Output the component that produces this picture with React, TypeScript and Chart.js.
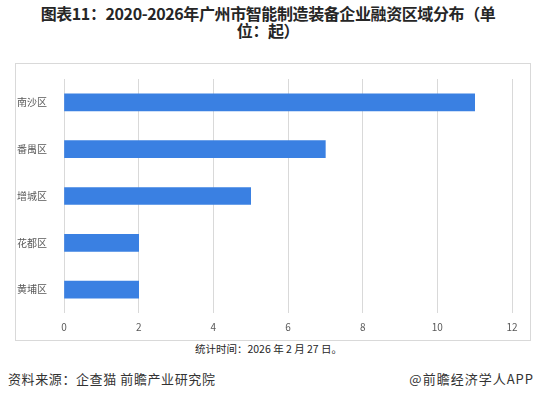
import React, { useEffect, useRef } from "react";
import { Chart, registerables } from "chart.js";

Chart.register(...registerables);

const categories = ["南沙区", "番禺区", "增城区", "花都区", "黄埔区"];
const values = [11, 7, 5, 2, 2];
const xMin = 0;
const xMax = 12;
const xStep = 2;

const titleText = "图表11：2020-2026年广州市智能制造装备企业融资区域分布（单位：起）";
const noteText = "统计时间：2026 年 2 月 27 日。";
const sourceText = "资料来源：企查猫 前瞻产业研究院";
const brandText = "@前瞻经济学人APP";

const FONT = "'Noto Sans CJK SC', 'Noto Sans', sans-serif";

export default function App() {
  const ref = useRef<HTMLCanvasElement | null>(null);

  useEffect(() => {
    if (!ref.current) return;
    const chart = new Chart(ref.current, {
      type: "bar",
      data: {
        labels: categories,
        datasets: [
          {
            data: values,
            backgroundColor: "#3a80e2",
            barThickness: 17,
          },
        ],
      },
      options: {
        indexAxis: "y",
        animation: false,
        responsive: false,
        maintainAspectRatio: false,
        layout: { padding: { left: 0, right: 18, top: 12, bottom: 0 } },
        plugins: {
          legend: { display: false },
          tooltip: { enabled: false },
          title: { display: false },
        },
        scales: {
          x: {
            min: xMin,
            max: xMax,
            ticks: {
              stepSize: xStep,
              color: "#595959",
              font: { size: 10, family: FONT },
              padding: 8,
            },
            grid: { color: "#d9d9d9", drawTicks: false, lineWidth: 1 },
            border: { display: false },
            afterFit: (scale: any) => {
              scale.height = 27;
            },
          },
          y: {
            ticks: {
              color: "#595959",
              font: { size: 10, family: FONT },
              padding: 9,
            },
            grid: { display: false },
            border: { display: false },
            afterFit: (scale: any) => {
              scale.width = 48;
            },
          },
        },
      },
    });
    return () => chart.destroy();
  }, []);

  return (
    <div
      style={{
        position: "absolute",
        left: 0,
        top: 0,
        width: 537,
        height: 399,
        background: "#ffffff",
        fontFamily: FONT,
        overflow: "hidden",
      }}
    >
      <div
        style={{
          position: "absolute",
          left: 26,
          top: 5,
          width: 484,
          textAlign: "center",
          fontWeight: "bold",
          fontSize: 16,
          lineHeight: "17px",
          color: "#262626",
          letterSpacing: -0.4,
        }}
      >
        {titleText}
      </div>
      <div
        style={{
          position: "absolute",
          left: 15,
          top: 63,
          width: 514,
          height: 276,
          border: "1px solid #d9d9d9",
        }}
      >
        <canvas ref={ref} width={514} height={276} style={{ display: "block" }} />
      </div>
      <div
        style={{
          position: "absolute",
          left: 0,
          width: 537,
          top: 341,
          textAlign: "center",
          fontSize: 10.5,
          color: "#262626",
        }}
      >
        {noteText}
      </div>
      <div
        style={{
          position: "absolute",
          left: 8,
          top: 369,
          fontSize: 13,
          letterSpacing: 0.6,
          color: "#333333",
        }}
      >
        {sourceText}
      </div>
      <div
        style={{
          position: "absolute",
          right: 3,
          top: 369,
          fontSize: 13,
          letterSpacing: 1,
          color: "#333333",
        }}
      >
        {brandText}
      </div>
    </div>
  );
}
